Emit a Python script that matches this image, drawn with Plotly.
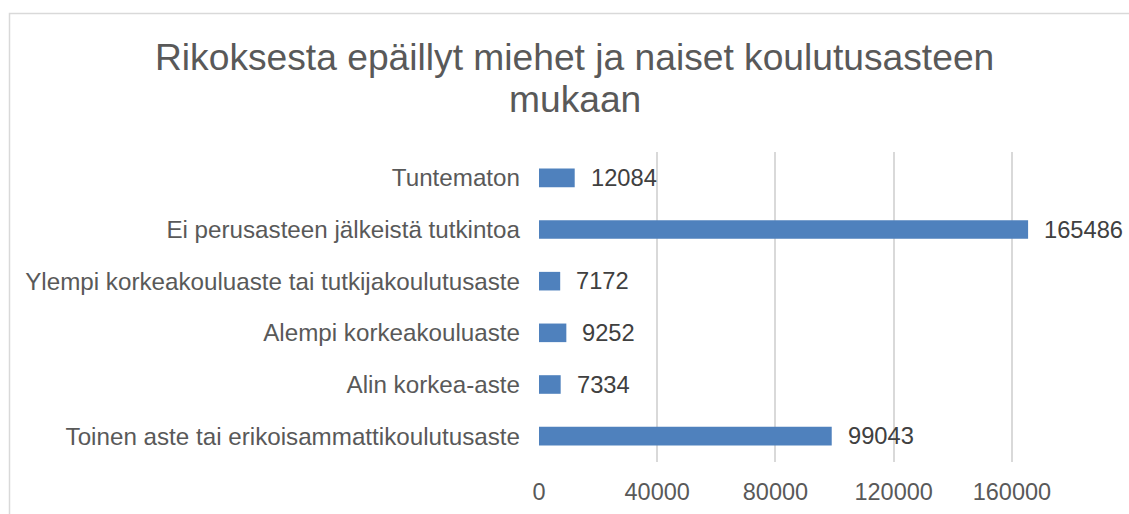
import plotly.graph_objects as go

categories = [
    "Toinen aste tai erikoisammattikoulutusaste",
    "Alin korkea-aste",
    "Alempi korkeakouluaste",
    "Ylempi korkeakouluaste tai tutkijakoulutusaste",
    "Ei perusasteen jälkeistä tutkintoa",
    "Tuntematon",
]
values = [99043, 7334, 9252, 7172, 165486, 12084]
tick_values = [0, 40000, 80000, 120000, 160000]
tick_labels = ["0", "40000", "80000", "120000", "160000"]
title_lines = ["Rikoksesta epäillyt miehet ja naiset koulutusasteen", "mukaan"]

FONT = "Liberation Sans, Arial, sans-serif"
W, H = 1129, 514
L, T, B = 539, 152, 52
PW = 532  # plot width in px
R = W - L - PW
ph = H - T - B

fig = go.Figure()
fig.add_trace(go.Bar(
    x=values, y=categories, orientation="h",
    marker=dict(color="#4f81bd", line=dict(width=0)),
    width=0.36,
    hoverinfo="x+y",
))

for v, c in zip(values, categories):
    fig.add_annotation(x=v, y=c, text=str(v), showarrow=False,
                       xanchor="left", yanchor="middle", xshift=14,
                       font=dict(size=23.7, color="#404040", family=FONT))

def px_x(px):
    return (px - L) / PW

def px_y(py):
    return (H - B - py) / ph

for line, ypx in zip(title_lines, [57, 99]):
    fig.add_annotation(xref="paper", yref="paper", x=px_x(574.5), y=px_y(ypx),
                       text=line, showarrow=False, xanchor="center", yanchor="middle",
                       font=dict(size=37.2, color="#595959", family=FONT))

fig.add_shape(type="rect", xref="paper", yref="paper",
              x0=px_x(9.5), x1=px_x(1145), y0=px_y(13.5), y1=px_y(530),
              line=dict(color="#d9d9d9", width=1.5), fillcolor="rgba(0,0,0,0)", layer="below")

fig.update_layout(
    width=W, height=H,
    margin=dict(l=L, r=R, t=T, b=B, autoexpand=False),
    paper_bgcolor="white", plot_bgcolor="white",
    showlegend=False,
    font=dict(family=FONT, color="#595959"),
    xaxis=dict(range=[0, 180000], tickvals=tick_values, ticktext=tick_labels,
               showgrid=True, gridcolor="#d9d9d9", gridwidth=1.5, zeroline=False,
               showline=False, ticks="", tickfont=dict(size=23.5, color="#595959", family=FONT),
               ticklabelstandoff=13),
    yaxis=dict(categoryorder="array", categoryarray=categories, range=[-0.5, 5.5],
               showgrid=False, zeroline=False, showline=False, ticks="",
               tickfont=dict(size=24.2, color="#595959", family=FONT), ticklabelstandoff=18),
)

fig.write_html("out.html", config={"displayModeBar": False},
               post_script="document.body.style.margin='0';document.body.style.overflow='hidden';")
